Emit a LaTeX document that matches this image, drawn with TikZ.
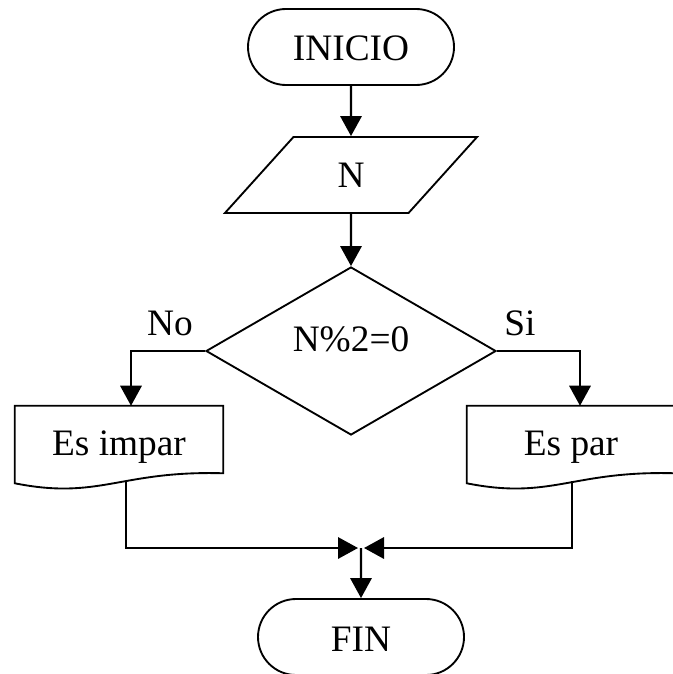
\documentclass[tikz,border=0pt]{standalone}
\usepackage{fontspec}
\setmainfont{Liberation Serif}
\usetikzlibrary{positioning,arrows.meta,calc,shapes.geometric,shapes.misc}
\tikzset{
  base/.style={inner sep=0pt,font=\fontsize{28pt}{33pt}\selectfont},
  terminal/.style={base,draw,line width=1.4pt,rounded rectangle,minimum width=154.5pt,minimum height=57pt,text height=21pt},
  entrada/.style={base,draw,line width=1.4pt,trapezium,trapezium left angle=56.7,trapezium right angle=123.3,trapezium stretches=true,minimum width=189.75pt,minimum height=57pt},
  decision/.style={base,draw,line width=1.4pt,diamond,minimum width=217.5pt,minimum height=126pt,text height=19pt,text depth=18pt},
  documento/.style={base,minimum width=156pt,minimum height=61.5pt},
  etiqueta/.style={base},
  borde/.style={line width=1.4pt,line join=miter},
  flecha/.style={-{Triangle[length=15pt,width=16pt]},line width=1.7pt},
}
\begin{document}
\begin{tikzpicture}[x=0.75pt,y=-0.75pt]
  \useasboundingbox (0,0) rectangle (673,674);
  % nodos
  \node[terminal] (ini) at (351,47) {INICIO};
  \node[entrada] (num) at (351,175) {N};
  \node[decision] (dec) at (351,351) {N\%2=0};
  \node[documento] (impar) at (119,447) {Es impar};
  \node[documento] (par) at (571,447) {Es par};
  \node[terminal] (fin) at (361,637) {FIN};
  \node[etiqueta] (lno) at (170,323) {No};
  \node[etiqueta] (lsi) at (520,323) {Si};
  \coordinate (junta) at (361,548);
  % bordes de los documentos
  \foreach \d in {impar,par}{
    \draw[borde] (\d.north west) -- (\d.north east) -- ($(\d.south east)+(0,-15)$)
      .. controls ($(\d.south east)+(-103,-18)$) and ($(\d.south west)+(85,12)$) .. ($(\d.south west)+(0,-5)$) -- cycle;
  }
  % flechas
  \draw[flecha] (ini) -- (num);
  \draw[flecha] (num) -- (dec);
  \draw[flecha] (dec.west) -| ($(impar.north)+(12,0)$);
  \draw[flecha] (dec.east) -| ($(par.north)+(9,0)$);
  \draw[flecha] ($(impar.south)+(7,-7)$) |- ($(junta)+(-3,0)$);
  \draw[flecha] ($(par.south)+(1,-7)$) |- ($(junta)+(3,0)$);
  \draw[flecha] (junta) -- (fin);
\end{tikzpicture}
\end{document}
